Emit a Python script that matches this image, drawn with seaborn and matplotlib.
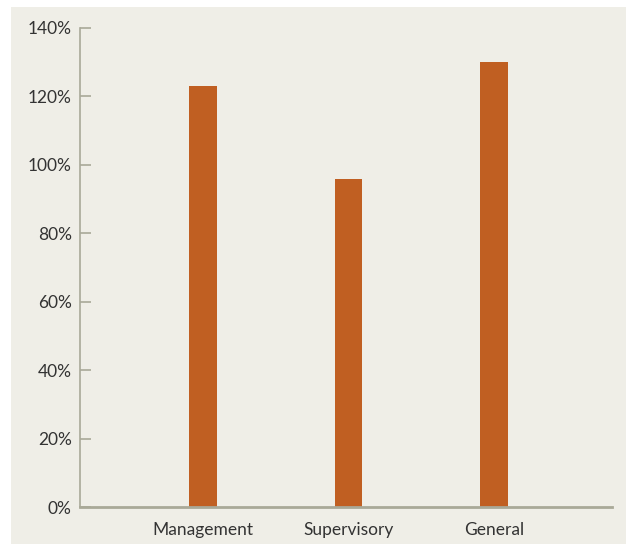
import matplotlib
matplotlib.use("Agg")
import matplotlib.pyplot as plt
import matplotlib.ticker as mticker
from matplotlib.patches import Rectangle
import pandas as pd
import seaborn as sns

# Data
categories = ["Management", "Supervisory", "General"]
values = [123, 96, 130]
y_ticks = [0, 20, 40, 60, 80, 100, 120, 140]

bar_color = "#c05f22"
bg_color = "#efeee7"
axis_color = "#a9a998"
text_color = "#333333"

sns.set_style("white")
plt.rcParams["font.family"] = ["Lato", "DejaVu Sans"]

df = pd.DataFrame({"group": categories, "pct": values})

fig = plt.figure(figsize=(6.26, 5.44), dpi=100, facecolor="white")
# beige panel behind the chart
fig.patches.append(Rectangle((11 / 626, 0), 1, 537 / 544, transform=fig.transFigure,
                             facecolor=bg_color, edgecolor="none", zorder=-10))

ax = fig.add_axes([80 / 626, 37 / 544, 532 / 626, 479 / 544])
ax.set_facecolor("none")

sns.barplot(data=df, x="group", y="pct", color=bar_color, width=0.19,
            saturation=1, linewidth=0, ax=ax)

ax.set_ylim(0, 140)
ax.set_xlim(-0.845, 2.81)
ax.set_yticks(y_ticks)
ax.yaxis.set_major_formatter(mticker.FuncFormatter(lambda v, p: f"{int(v)}%"))
ax.set_xlabel("")
ax.set_ylabel("")

for side in ["top", "right"]:
    ax.spines[side].set_visible(False)
ax.spines["left"].set_color(axis_color)
ax.spines["left"].set_linewidth(1.2)
ax.spines["bottom"].set_color(axis_color)
ax.spines["bottom"].set_linewidth(2)

ax.tick_params(axis="y", direction="in", length=8, width=1.2, color=axis_color,
               labelsize=12.5, labelcolor=text_color, pad=6, left=True)
ax.tick_params(axis="x", length=0, labelsize=12.5, labelcolor=text_color, pad=11)

fig.savefig("out.png", dpi=100, facecolor="white")
